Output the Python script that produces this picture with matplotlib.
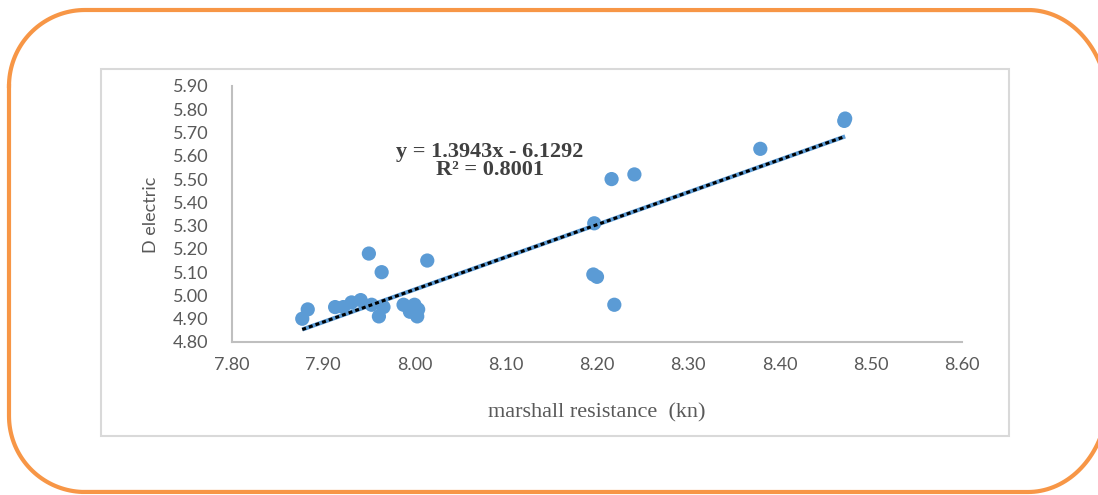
import numpy as np
import matplotlib.pyplot as plt
from matplotlib.patches import Rectangle

# data
marshall = [7.877, 7.883, 7.913, 7.922, 7.931, 7.941, 7.950, 7.953, 7.961, 7.964,
            7.966, 7.988, 7.995, 8.000, 8.003, 8.004, 8.014, 8.196, 8.200, 8.197,
            8.216, 8.219, 8.241, 8.379, 8.471, 8.472]
dielectric = [4.90, 4.94, 4.95, 4.95, 4.97, 4.98, 5.18, 4.96, 4.91, 5.10,
              4.95, 4.96, 4.93, 4.96, 4.91, 4.94, 5.15, 5.09, 5.08, 5.31,
              5.50, 4.96, 5.52, 5.63, 5.75, 5.76]

# trendline as printed on the chart
slope = 1.3943
intercept = -6.1292
r2 = 0.8001

x_ticks = [7.80, 7.90, 8.00, 8.10, 8.20, 8.30, 8.40, 8.50, 8.60]
y_ticks = [4.80, 4.90, 5.00, 5.10, 5.20, 5.30, 5.40, 5.50, 5.60, 5.70, 5.80, 5.90]

fig = plt.figure(figsize=(10.98, 4.95), dpi=100)

# frame layer in pixel coordinates
bg = fig.add_axes([0, 0, 1, 1])
bg.set_xlim(0, 1098)
bg.set_ylim(495, 0)
bg.axis('off')


def corner(cx, cy, rx, ry, a0, a1):
    t = np.radians(np.linspace(a0, a1, 40))
    return list(cx + rx * np.cos(t)), list(cy + ry * np.sin(t))


# rounded outline; the right side runs past the image edge
fx, fy = [], []
for cx, cy, rx, ry, a0, a1 in [(85, 86, 76, 76, 180, 270),
                               (1028, 105, 80, 95, 270, 360),
                               (1028, 397, 80, 95, 0, 90),
                               (85, 416, 76, 76, 90, 180)]:
    px, py = corner(cx, cy, rx, ry, a0, a1)
    fx += px
    fy += py
fx.append(fx[0])
fy.append(fy[0])
bg.plot(fx, fy, color='#F79646', linewidth=3)
bg.add_patch(Rectangle((101, 69), 908, 367, fill=False, edgecolor='#D9D9D9', linewidth=1.5))

ax = fig.add_axes([0.2113, 0.3091, 0.6648, 0.5172])
ax.set_facecolor('none')

ax.scatter(marshall, dielectric, s=105, color='#5B9BD5', edgecolors='none', zorder=3)

x0, x1 = min(marshall), max(marshall)
tx = [x0, x1]
ty = [slope * v + intercept for v in tx]
ax.plot(tx, ty, color='#5B9BD5', linewidth=3, solid_capstyle='butt', zorder=4)
ax.plot(tx, ty, color='black', linewidth=2.2, linestyle=(0, (1.3, 1.0)), zorder=5)

ax.text(0.353, 0.707, f'y = {slope}x - {-intercept}\nR² = {r2}',
        transform=ax.transAxes, ha='center', va='center', multialignment='center',
        family='Liberation Serif', fontweight='bold', fontsize=16, color='#404040',
        linespacing=0.85)

ax.set_xlim(7.80, 8.60)
ax.set_ylim(4.80, 5.90)
ax.set_xticks(x_ticks)
ax.set_yticks(y_ticks)
ax.set_xticklabels([f'{v:.2f}' for v in x_ticks])
ax.set_yticklabels([f'{v:.2f}' for v in y_ticks])
ax.tick_params(length=0, labelsize=13, labelcolor='#595959')
ax.tick_params(axis='y', pad=17)
ax.tick_params(axis='x', pad=11)
for lab in ax.get_xticklabels() + ax.get_yticklabels():
    lab.set_family('Lato')

for side in ['top', 'right']:
    ax.spines[side].set_visible(False)
for side in ['left', 'bottom']:
    ax.spines[side].set_color('#BFBFBF')
    ax.spines[side].set_linewidth(1.5)

ax.set_xlabel('marshall resistance  (kn)', family='Liberation Serif', fontsize=16, color='#595959')
ax.xaxis.set_label_coords(0.5, -0.238)
ax.set_ylabel('D electric', family='Lato', fontsize=13, color='#595959')
ax.yaxis.set_label_coords(-0.10, 0.496)

plt.savefig('out.png', dpi=100)
plt.close()
